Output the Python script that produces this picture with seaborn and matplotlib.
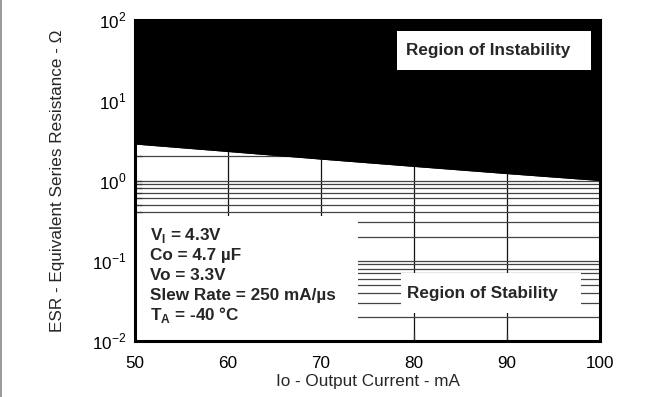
import numpy as np
import pandas as pd
import seaborn as sns
import matplotlib.pyplot as plt
from matplotlib.patches import Rectangle
from matplotlib.lines import Line2D
from matplotlib.ticker import LogLocator, FixedLocator, NullFormatter


# stability boundary
current_ma = [50, 60, 70, 80, 90, 100]
esr_limit = [2.85, 2.3, 1.85, 1.5, 1.22, 1.0]

x_ticks = [50, 60, 70, 80, 90, 100]
y_ticks = [0.01, 0.1, 1, 10, 100]
y_tick_labels = [r'$10^{-2}$', r'$10^{-1}$', r'$10^{0}$', r'$10^{1}$', r'$10^{2}$']

conditions = [r'V$_\mathbf{I}$ = 4.3V', 'Co = 4.7 µF', 'Vo = 3.3V',
              'Slew Rate = 250 mA/µs', r'T$_\mathbf{A}$ = -40 °C']

FS = 12.3

sns.set_style("ticks")
plt.rcParams['font.family'] = ['Liberation Sans', 'DejaVu Sans']
plt.rcParams['mathtext.fontset'] = 'custom'
plt.rcParams['mathtext.rm'] = 'Liberation Sans'
plt.rcParams['mathtext.bf'] = 'Liberation Sans:bold'


def plot_esr():
    data = pd.DataFrame({"current": current_ma, "esr": esr_limit})

    fig = plt.figure(figsize=(6.63, 3.97), dpi=100)
    ax = fig.add_axes([0.2036, 0.141, 0.7014, 0.8086])
    ax.set_yscale('log')
    ax.set_xlim(50, 100)
    ax.set_ylim(0.01, 100)

    # grid under everything
    ax.yaxis.set_minor_locator(LogLocator(base=10, subs=np.arange(2, 10)))
    ax.yaxis.set_minor_formatter(NullFormatter())
    ax.set_yticks(y_ticks)
    ax.set_yticklabels(y_tick_labels)
    ax.set_xticks(x_ticks)
    ax.xaxis.set_minor_locator(FixedLocator([]))
    ax.grid(True, which='both', axis='y', color='#444444', lw=0.9, zorder=0)
    ax.grid(True, which='major', axis='x', color='#111111', lw=0.9, zorder=0)
    ax.set_axisbelow(True)

    sns.lineplot(x="current", y="esr", data=data, color='black', lw=0.8, ax=ax, zorder=2)
    ax.fill_between(data["current"], data["esr"], 100, color='black', lw=0, zorder=2)

    # white backgrounds for the annotation boxes
    for x0, y0, w, h in [(0.0, 0.0, 0.48, 0.39), (0.572, 0.087, 0.387, 0.125),
                         (0.563, 0.844, 0.418, 0.122)]:
        ax.add_patch(Rectangle((x0, y0), w, h, transform=ax.transAxes,
                               facecolor='white', edgecolor='none', zorder=3))

    ax.text(0.582, 0.905, 'Region of Instability', transform=ax.transAxes,
            fontsize=FS, fontweight='bold', va='center', ha='left', zorder=4)
    ax.text(0.586, 0.149, 'Region of Stability', transform=ax.transAxes,
            fontsize=FS, fontweight='bold', va='center', ha='left', zorder=4)
    for i, line in enumerate(conditions):
        ax.text(0.032, 0.33 - i * 0.0623, line, transform=ax.transAxes,
                fontsize=FS, fontweight='bold', va='center', ha='left', zorder=4)

    ax.tick_params(axis='both', which='major', direction='in', length=5, width=0.9,
                   labelsize=FS, color='#333333', labelcolor='black')
    ax.tick_params(axis='x', which='major', pad=11)
    ax.tick_params(axis='y', which='major', pad=6)
    ax.tick_params(axis='y', which='minor', direction='in', length=5, width=0.9, color='#333333')
    for s in ax.spines.values():
        s.set_linewidth(2.2)
        s.set_color('black')
        s.set_zorder(5)

    ax.set_xlabel('Io - Output Current - mA', fontsize=FS, labelpad=2)
    ax.set_ylabel('ESR - Equivalent Series Resistance - Ω', fontsize=FS, labelpad=20)

    fig.add_artist(Line2D([0.002, 0.002], [0, 1], transform=fig.transFigure,
                          color='#888888', lw=1.2))
    fig.savefig('out.png', dpi=100)


if __name__ == '__main__':
    plot_esr()
